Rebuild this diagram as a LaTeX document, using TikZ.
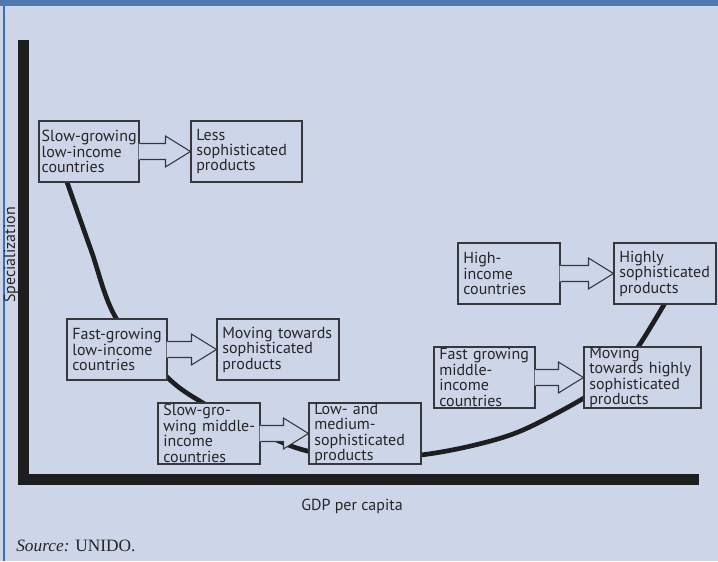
\documentclass[tikz,border=0pt]{standalone}
\usepackage{fontspec}
\setmainfont{Liberation Serif}
\newfontfamily\boxfont{PT Sans}
\usepackage{xcolor}
\usetikzlibrary{calc}

\definecolor{panel}{RGB}{205,213,232}
\definecolor{band}{RGB}{80,119,174}
\definecolor{frame}{RGB}{60,110,190}
\definecolor{axisblack}{RGB}{30,30,32}
\definecolor{boxline}{RGB}{55,55,60}

% open arrow from one box into the next
\newcommand{\fatarrow}[2]{%
  \fill[panel] ($(#1.east)+(-0.6pt,6pt)$) -- ($(#2.west)+(-18.75pt,6pt)$) -- ($(#2.west)+(-18.75pt,11.6pt)$) -- (#2.west) -- ($(#2.west)+(-18.75pt,-11.6pt)$) -- ($(#2.west)+(-18.75pt,-6pt)$) -- ($(#1.east)+(-0.6pt,-6pt)$) -- cycle;
  \draw[boxline, line width=0.8pt, line join=miter] ($(#1.east)+(0,6pt)$) -- ($(#2.west)+(-18.75pt,6pt)$) -- ($(#2.west)+(-18.75pt,11.6pt)$) -- (#2.west) -- ($(#2.west)+(-18.75pt,-11.6pt)$) -- ($(#2.west)+(-18.75pt,-6pt)$) -- ($(#1.east)+(0,-6pt)$);}

\begin{document}
\begin{tikzpicture}[x=0.75pt, y=-0.75pt,
  box/.style={draw=boxline, line width=0.8pt, fill=panel, text width=#1, inner xsep=4pt, inner ysep=0pt, minimum height=45.75pt, align=left, text=black!85, font=\boxfont\fontsize{12}{11.6}\selectfont, execute at begin node={\hyphenpenalty=10000 \exhyphenpenalty=10000 }},
  axislabel/.style={text=black!85, font=\boxfont\fontsize{12}{14}\selectfont}]
  \useasboundingbox (0,0) rectangle (718,561);
  \fill[panel] (0,0) rectangle (718,561);
  \fill[band] (0,0) rectangle (718,6);
  \draw[frame, line width=0.8pt] (4,6) -- (4,561);

  \draw[axisblack, line width=8.25pt, line join=miter] (23.5,40) -- (23.5,479.5) -- (699,479.5);
  \node[axislabel, rotate=90] (ylabel) at (11,255) {Specialization};
  \node[axislabel] (xlabel) at (352,506) {GDP per capita};
  \node[anchor=west, font=\fontsize{13}{15}\selectfont, text=black!85, inner xsep=0pt] (source) at (16,546) {\textit{Source:} UNIDO.};

  \draw[axisblack, line width=3.5pt] plot[smooth, tension=0.55] coordinates {(67,182) (91,250) (116,318) (167,377) (203,403) (245,425) (300,449) (360,459) (421,455) (475,445) (523,430) (584,398) (615,375) (638,347) (665,303)};

  \node[box=71pt, inner xsep=2pt] (slowlow) at (89,151.5) {Slow-growing\\low-income\\countries};
  \node[box=75.25pt] (lessprod) at (246.5,151.5) {Less\\sophisticated\\products};
  \node[box=67pt] (fastlow) at (117,349.5) {Fast-growing\\low-income\\countries};
  \node[box=83.5pt] (movprod) at (278,349.5) {Moving~towards\\sophisticated\\products};
  \node[box=68.5pt] (slowmid) at (209,433.5) {Slow-gro-\\wing~middle-\\income\\countries};
  \node[box=76pt] (lowmedprod) at (365,433.5) {Low-~and\\medium-\\sophisticated\\products};
  \node[box=68.5pt] (highinc) at (509,273.5) {High-\\income\\countries};
  \node[box=68.5pt] (highprod) at (665,273.5) {Highly\\sophisticated\\products};
  \node[box=67.75pt] (fastmid) at (484.5,377.5) {Fast~growing\\middle-\\income\\countries};
  \node[box=79.75pt] (movhighprod) at (642.5,377.5) {Moving\\towards~highly\\sophisticated\\products};

  \fatarrow{slowlow}{lessprod}
  \fatarrow{fastlow}{movprod}
  \fatarrow{slowmid}{lowmedprod}
  \fatarrow{highinc}{highprod}
  \fatarrow{fastmid}{movhighprod}
\end{tikzpicture}
\end{document}
